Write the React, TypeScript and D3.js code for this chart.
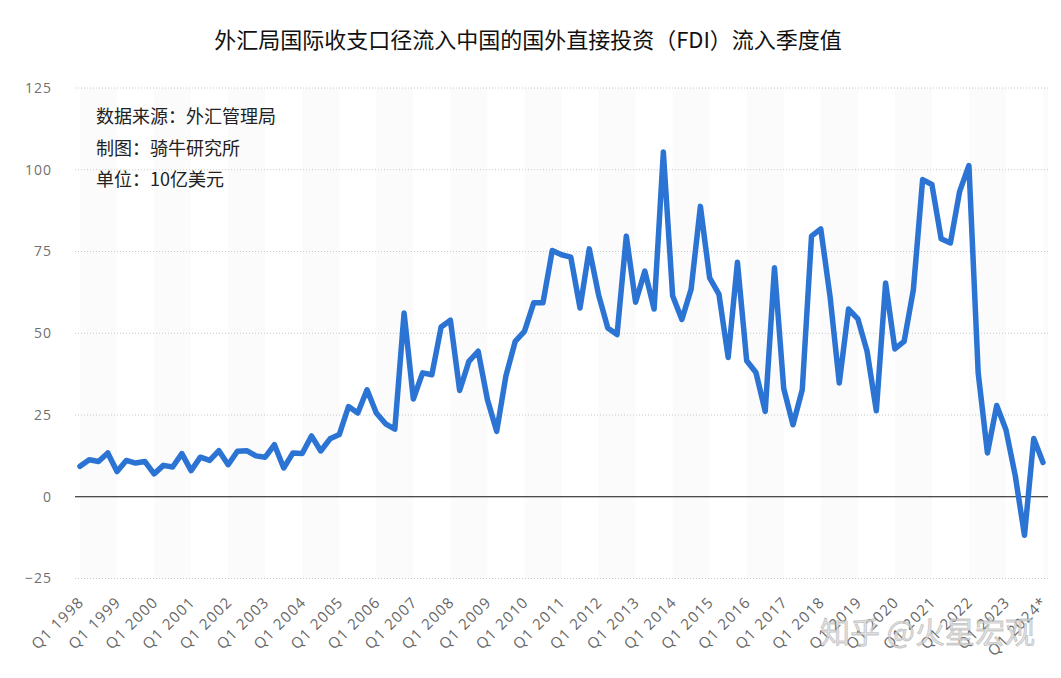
import React from "react";
import { scalePoint, scaleLinear, line, curveLinear } from "d3";

// 外汇局国际收支口径 FDI 流入，季度值（10亿美元），Q1 1998 – Q1 2024
const years = [
  1998, 1999, 2000, 2001, 2002, 2003, 2004, 2005, 2006, 2007, 2008, 2009, 2010,
  2011, 2012, 2013, 2014, 2015, 2016, 2017, 2018, 2019, 2020, 2021, 2022, 2023,
  2024,
];

const fdiInflow = [
  9.3, 11.3, 10.8, 13.4, 7.7, 11.1, 10.3, 10.8, 7.0, 9.6, 9.1, 13.2, 8.0, 12.1,
  11.1, 14.1, 9.8, 13.9, 14.1, 12.5, 12.1, 15.9, 8.8, 13.4, 13.2, 18.6, 14.0,
  17.7, 19.0, 27.6, 25.6, 32.7, 25.6, 22.3, 20.7, 56.2, 29.9, 37.9, 37.3, 51.9,
  54.0, 32.5, 41.4, 44.5, 29.7, 20.0, 37.0, 47.5, 50.6, 59.3, 59.3, 75.3, 74.0,
  73.3, 57.7, 75.8, 61.8, 51.6, 49.6, 79.7, 59.5, 69.0, 57.4, 105.4, 61.5, 54.2,
  63.5, 88.8, 66.9, 62.0, 42.6, 71.7, 41.6, 38.0, 26.1, 70.0, 33.1, 22.0, 32.7,
  79.7, 81.9, 61.3, 34.8, 57.4, 54.4, 44.5, 26.3, 65.4, 45.2, 47.5, 63.3, 97.0,
  95.5, 78.9, 77.6, 93.4, 101.3, 37.9, 13.4, 27.9, 20.5, 6.5, -11.8, 17.8, 10.5,
];

const yTicks = [-25, 0, 25, 50, 75, 100, 125];
const notes = ["数据来源：外汇管理局", "制图：骑牛研究所", "单位：10亿美元"];
const title = "外汇局国际收支口径流入中国的国外直接投资（FDI）流入季度值";

// quarter keys, built from the years above
const quarters = years.flatMap((y) =>
  [1, 2, 3, 4].map((q) => `Q${q} ${y}`)
).slice(0, fdiInflow.length);

const W = 1061;
const H = 678;
const gridLeft = 75;
const gridRight = 1048;

export default function App() {
  const x = scalePoint<string>().domain(quarters).range([80, 1043]);
  const step = x.step();
  const y = scaleLinear().domain([-25, 125]).range([578.5, 88]);

  const path = line<number>()
    .x((_, i) => x(quarters[i])!)
    .y((d) => y(d))
    .curve(curveLinear)(fdiInflow);

  const axisFont = "'Open Sans', 'DejaVu Sans', sans-serif";
  const cjkFont = "'Noto Sans CJK SC', sans-serif";

  return (
    <svg
      width={W}
      height={H}
      style={{ position: "absolute", left: 0, top: 0, background: "#fff" }}
    >
      {/* year stripes */}
      {years.map((yr, k) => {
        if (k % 2 !== 0) return null;
        const x0 = x(`Q1 ${yr}`) ?? 80 + k * 4 * step;
        const x1 = Math.min(x0 + 4 * step, gridRight);
        if (x1 <= x0) return null;
        return (
          <rect
            key={yr}
            x={x0}
            y={y(125)}
            width={x1 - x0}
            height={y(-25) - y(125)}
            fill="#fbfbfb"
          />
        );
      })}

      {/* grid */}
      {yTicks.map((t) =>
        t === 0 ? null : (
          <line
            key={t}
            x1={gridLeft}
            x2={gridRight}
            y1={y(t)}
            y2={y(t)}
            stroke="#c8c8c8"
            strokeWidth={1}
            strokeDasharray="1,2"
          />
        )
      )}
      <line
        x1={gridLeft}
        x2={gridRight}
        y1={y(0)}
        y2={y(0)}
        stroke="#111"
        strokeWidth={1.2}
      />

      {/* y labels */}
      {yTicks.map((t) => (
        <text
          key={t}
          x={52}
          y={y(t)}
          dy="0.35em"
          textAnchor="end"
          fontFamily={axisFont}
          fontSize={14}
          letterSpacing={1}
          fill="#707070"
        >
          {t < 0 ? `−${Math.abs(t)}` : t}
        </text>
      ))}

      {/* x labels */}
      {years.map((yr) => {
        const xp = x(`Q1 ${yr}`)!;
        return (
          <text
            key={yr}
            transform={`translate(${xp + 5},${603}) rotate(-45)`}
            textAnchor="end"
            fontFamily={axisFont}
            fontSize={15}
            letterSpacing={1.2}
            fill="#666"
          >
            {yr === 2024 ? `Q1 ${yr}*` : `Q1 ${yr}`}
          </text>
        );
      })}

      {/* series */}
      <path
        d={path ?? ""}
        fill="none"
        stroke="#2b74d3"
        strokeWidth={5.5}
        strokeLinejoin="round"
        strokeLinecap="round"
      />

      {/* title */}
      <text
        x={528}
        y={48}
        textAnchor="middle"
        fontFamily={cjkFont}
        fontSize={22}
        fill="#111"
      >
        {title}
      </text>

      {/* notes */}
      {notes.map((n, i) => (
        <text
          key={n}
          x={96}
          y={123 + i * 31.5}
          fontFamily={cjkFont}
          fontSize={18}
          fill="#222"
        >
          {n}
        </text>
      ))}

      {/* watermark */}
      <text
        x={1035}
        y={643}
        textAnchor="end"
        fontFamily={cjkFont}
        fontSize={30}
        fill="#d9d9d9"
        fillOpacity={0.75}
        stroke="#9a9a9a"
        strokeOpacity={0.5}
        strokeWidth={0.8}
      >
        知乎 @火星宏观
      </text>
    </svg>
  );
}
